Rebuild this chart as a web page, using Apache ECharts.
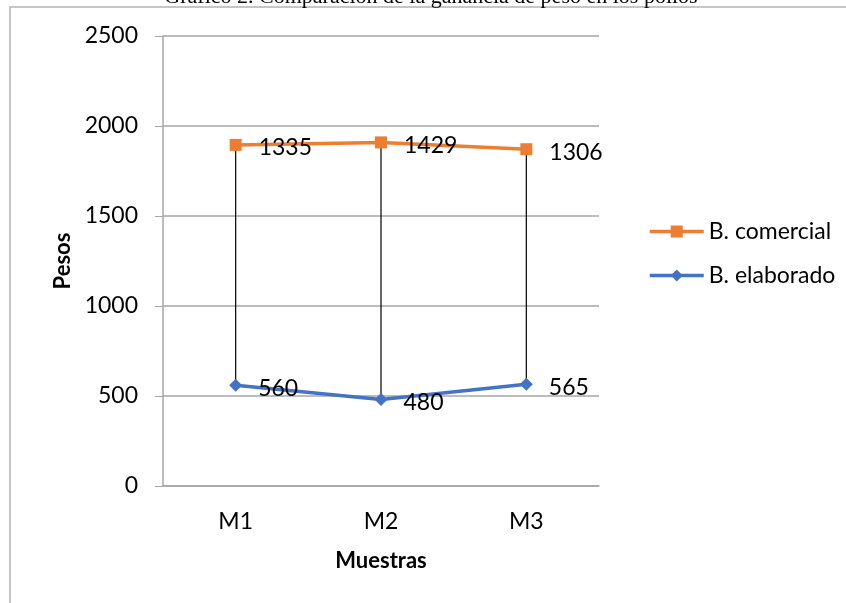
<!DOCTYPE html>
<html>
<head>
<meta charset="utf-8">
<script src="https://cdn.jsdelivr.net/npm/echarts@6/dist/echarts.min.js"></script>
<style>
  html, body { margin: 0; padding: 0; background: #fff; }
  #chart { width: 846px; height: 603px; }
</style>
</head>
<body>
<div id="chart"></div>
<script>
var categories = ['M1', 'M2', 'M3'];
var elaborado = [560, 480, 565];
var comercial = [1335, 1429, 1306];

var chart = echarts.init(document.getElementById('chart'));

// lineas verticales entre el punto bajo y el punto alto (apilado)
var hiLow = [];
for (var i = 0; i < categories.length; i++) {
  hiLow.push([i, elaborado[i], elaborado[i] + comercial[i]]);
}

var font = 'Lato, "Open Sans", sans-serif';

var option = {
  animation: false,
  title: {
    text: 'Gráfico 2. Comparación de la ganancia de peso en los pollos',
    left: 426,
    textAlign: 'center',
    top: -19,
    textStyle: {
      fontFamily: '"Liberation Serif", "DejaVu Serif", serif',
      fontSize: 22,
      fontWeight: 'normal',
      color: '#000'
    }
  },
  graphic: [
    {
      type: 'rect',
      shape: { x: 10, y: 7, width: 900, height: 700 },
      style: { fill: 'none', stroke: '#b4b4b4', lineWidth: 1.5 },
      silent: true
    }
  ],
  legend: {
    data: ['B. comercial', 'B. elaborado'],
    orient: 'vertical',
    left: 643,
    top: 215,
    itemWidth: 54,
    itemHeight: 15,
    itemGap: 21,
    lineStyle: { width: 3.5 },
    textStyle: { fontFamily: font, fontSize: 23, color: '#000' }
  },
  grid: {
    left: 163,
    right: 247,
    top: 36,
    bottom: 117
  },
  xAxis: {
    type: 'category',
    data: categories,
    name: 'Muestras',
    nameLocation: 'middle',
    nameGap: 64,
    nameTextStyle: { fontFamily: font, fontSize: 22, fontWeight: 'bold', color: '#000' },
    axisLine: { lineStyle: { color: '#a6a6a6', width: 1.5 } },
    axisTick: { show: false },
    axisLabel: { fontFamily: font, fontSize: 23, color: '#000', margin: 24 }
  },
  yAxis: {
    type: 'value',
    min: 0,
    max: 2500,
    interval: 500,
    name: 'Pesos',
    nameLocation: 'middle',
    nameGap: 88,
    nameRotate: 90,
    nameTextStyle: { fontFamily: font, fontSize: 22, fontWeight: 'bold', color: '#000' },
    axisLine: { show: true, lineStyle: { color: '#a6a6a6', width: 1.5 } },
    axisTick: { show: true, length: 8, lineStyle: { color: '#a6a6a6' } },
    splitLine: { lineStyle: { color: '#a6a6a6', width: 1.5 } },
    axisLabel: {
      fontFamily: font,
      fontSize: 23,
      color: '#000',
      margin: 25,
      formatter: function (v) { return String(v); }
    }
  },
  series: [
    {
      type: 'custom',
      name: 'hilo',
      data: hiLow,
      z: 1,
      renderItem: function (params, api) {
        var p1 = api.coord([api.value(0), api.value(1)]);
        var p2 = api.coord([api.value(0), api.value(2)]);
        return {
          type: 'line',
          shape: { x1: p1[0], y1: p1[1], x2: p2[0], y2: p2[1] },
          style: { stroke: '#000', lineWidth: 1.2 }
        };
      }
    },
    {
      name: 'B. elaborado',
      type: 'line',
      stack: 'total',
      data: elaborado,
      z: 3,
      symbol: 'diamond',
      symbolSize: 13,
      lineStyle: { color: '#4472C4', width: 3.5 },
      itemStyle: { color: '#4472C4' },
      label: {
        show: true,
        position: 'right',
        distance: 16,
        offset: [0, 3],
        fontFamily: font,
        fontSize: 23,
        color: '#000'
      }
    },
    {
      name: 'B. comercial',
      type: 'line',
      stack: 'total',
      data: comercial,
      z: 3,
      symbol: 'rect',
      symbolSize: 12,
      lineStyle: { color: '#ED7D31', width: 3.5 },
      itemStyle: { color: '#ED7D31' },
      label: {
        show: true,
        position: 'right',
        distance: 17,
        offset: [0, 3],
        fontFamily: font,
        fontSize: 23,
        color: '#000'
      }
    }
  ]
};

chart.setOption(option);
</script>
</body>
</html>
